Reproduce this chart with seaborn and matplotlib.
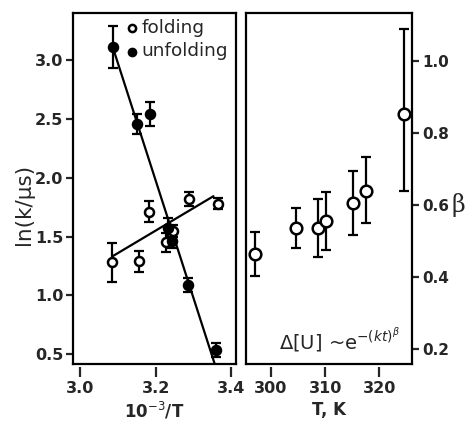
import numpy as np
import pandas as pd
import matplotlib
matplotlib.use("Agg")
import matplotlib.pyplot as plt
import seaborn as sns

# ---- left panel: Arrhenius data, ln(k/us) vs 10^-3/T ----
fold_x = [3.084, 3.157, 3.183, 3.228, 3.245, 3.287, 3.364]
fold_y = [1.28, 1.29, 1.71, 1.45, 1.55, 1.82, 1.78]
fold_err = [0.165, 0.09, 0.09, 0.08, 0.05, 0.057, 0.047]

unfold_x = [3.086, 3.150, 3.185, 3.232, 3.243, 3.285, 3.361]
unfold_y = [3.11, 2.46, 2.54, 1.57, 1.46, 1.09, 0.54]
unfold_err = [0.175, 0.085, 0.10, 0.09, 0.06, 0.06, 0.06]

# straight-line fits as drawn in the figure (end points)
fold_fit_x = [3.086, 3.353]
fold_fit_y = [1.333, 1.843]
unfold_fit_x = [3.086, 3.356]
unfold_fit_y = [3.113, 0.421]

# ---- right panel: stretch exponent beta vs T ----
temp_K = [297.1, 304.7, 308.7, 310.2, 315.1, 317.5, 324.6]
beta = [0.465, 0.535, 0.536, 0.556, 0.605, 0.640, 0.852]
beta_err_lo = [0.061, 0.055, 0.079, 0.080, 0.087, 0.090, 0.213]
beta_err_hi = [0.061, 0.058, 0.080, 0.079, 0.090, 0.093, 0.236]

df_fold = pd.DataFrame({'x': fold_x, 'y': fold_y, 'kind': 'folding'})
df_unfold = pd.DataFrame({'x': unfold_x, 'y': unfold_y, 'kind': 'unfolding'})
df_beta = pd.DataFrame({'T': temp_K, 'beta': beta})

sns.set_style("ticks")
plt.rcParams['font.family'] = ['DejaVu Sans']
plt.rcParams['mathtext.fontset'] = 'dejavusans'

fig = plt.figure(figsize=(4.67, 4.23), dpi=100)
ax1 = fig.add_axes([0.157, 0.1388, 0.3478, 0.8298])
ax2 = fig.add_axes([0.5268, 0.1388, 0.3561, 0.8298])

lw = 1.6
tick_font = dict(fontsize=11.5, fontweight='bold')
rtick_font = dict(fontsize=11, fontweight='bold')

# ===================== LEFT PANEL =====================
sns.lineplot(x=fold_fit_x, y=fold_fit_y, ax=ax1, color='black', lw=lw, zorder=2)
sns.lineplot(x=unfold_fit_x, y=unfold_fit_y, ax=ax1, color='black', lw=lw, zorder=2)

ax1.errorbar(fold_x, fold_y, yerr=fold_err, fmt='none', ecolor='black',
             elinewidth=lw, capsize=3.5, capthick=lw, zorder=3)
ax1.errorbar(unfold_x, unfold_y, yerr=unfold_err, fmt='none', ecolor='black',
             elinewidth=lw, capsize=3.5, capthick=lw, zorder=3)

sns.scatterplot(data=df_fold, x='x', y='y', ax=ax1, marker='o', s=42,
                facecolor='white', edgecolor='black', linewidth=1.8,
                label='folding', zorder=4)
sns.scatterplot(data=df_unfold, x='x', y='y', ax=ax1, marker='o', s=42,
                color='black', edgecolor='black', linewidth=1.8,
                label='unfolding', zorder=4)

ax1.set_xlim(2.982, 3.412)
ax1.set_ylim(0.415, 3.397)
ax1.set_yticks([0.5, 1.0, 1.5, 2.0, 2.5, 3.0])
ax1.set_yticklabels(['0.5', '1.0', '1.5', '2.0', '2.5', '3.0'], **tick_font)
ax1.set_ylabel('ln(k/\u03bcs)', fontsize=15.5)
ax1.yaxis.set_label_coords(-0.24, 0.454)
ax1.set_xlabel('')
ax1.tick_params(axis='y', direction='out', length=5, width=lw, pad=2)
ax1.tick_params(axis='x', bottom=False, labelbottom=False)

leg = ax1.legend(loc='upper right', frameon=False, fontsize=13.3,
                 handletextpad=0.05, borderaxespad=0.0, labelspacing=0.3,
                 handlelength=1.0, markerscale=0.8,
                 bbox_to_anchor=(1.0, 1.005))

# x axis drawn slightly below the frame, like the original
sec1 = ax1.secondary_xaxis(-0.009)
sec1.spines['bottom'].set_visible(False)
sec1.set_xticks([3.0, 3.2, 3.4])
sec1.set_xticklabels(['3.0', '3.2', '3.4'], **tick_font)
sec1.tick_params(direction='out', length=7, width=lw, pad=3)
sec1.set_xlabel('10$^{-3}$/T', fontsize=12, fontweight='bold', labelpad=3)

# ===================== RIGHT PANEL =====================
ax2.errorbar(temp_K, beta, yerr=[beta_err_lo, beta_err_hi], fmt='none',
             ecolor='black', elinewidth=lw, capsize=3.5, capthick=lw, zorder=3)
sns.scatterplot(data=df_beta, x='T', y='beta', ax=ax2, marker='o', s=70,
                facecolor='white', edgecolor='black', linewidth=1.8, zorder=4)

ax2.set_xlim(295.4, 326.1)
ax2.set_ylim(0.158, 1.132)
ax2.yaxis.tick_right()
ax2.set_yticks([0.2, 0.4, 0.6, 0.8, 1.0])
ax2.set_yticklabels(['0.2', '0.4', '0.6', '0.8', '1.0'], **rtick_font)
ax2.tick_params(axis='y', direction='out', length=5, width=lw, pad=2)
ax2.tick_params(axis='x', bottom=False, labelbottom=False)
ax2.set_xlabel('')
ax2.set_ylabel('')
# beta label sits right after the 0.6 tick label
ax2.text(1.275, 0.455, '\u03b2', transform=ax2.transAxes, ha='center',
         va='center', fontsize=17, family='DejaVu Serif')

sec2 = ax2.secondary_xaxis(-0.009)
sec2.spines['bottom'].set_visible(False)
sec2.set_xticks([300, 310, 320])
sec2.set_xticklabels(['300', '310', '320'], **tick_font)
sec2.tick_params(direction='out', length=7, width=lw, pad=3)
sec2.set_xlabel('T, K', fontsize=12, fontweight='bold', labelpad=3)

ax2.text(0.56, 0.03, r'$\Delta$[U] ~e$^{-(kt)^{\beta}}$', transform=ax2.transAxes,
         ha='center', va='bottom', fontsize=14)

for ax in (ax1, ax2):
    for sp in ax.spines.values():
        sp.set_visible(True)
        sp.set_linewidth(lw)
        sp.set_color('black')

fig.savefig('out.png', dpi=100)
